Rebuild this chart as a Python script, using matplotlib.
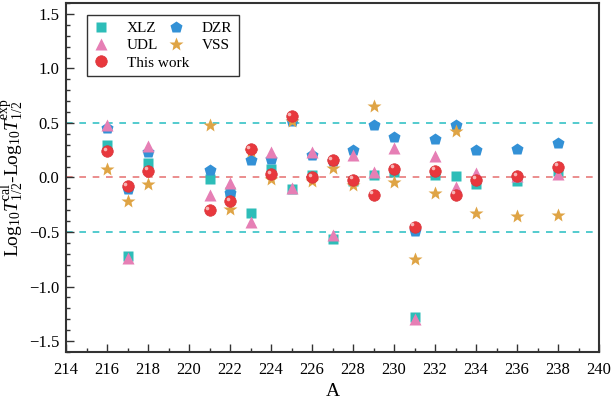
import matplotlib
matplotlib.use("Agg")
import matplotlib.pyplot as plt
from matplotlib.ticker import MultipleLocator
from matplotlib.transforms import offset_copy

plt.rcParams['font.family'] = ['Liberation Serif', 'DejaVu Serif']
plt.rcParams['mathtext.fontset'] = 'custom'
plt.rcParams['mathtext.rm'] = 'Liberation Serif'
plt.rcParams['mathtext.it'] = 'Liberation Serif:italic'
plt.rcParams['mathtext.bf'] = 'Liberation Serif:bold'

A = [216, 217, 218, 221, 222, 223, 224, 225, 226, 227, 228, 229, 230, 231, 232, 233, 234, 236, 238]
xlz = [0.30, -0.72, 0.13, -0.01, -0.13, -0.33, 0.08, -0.11, 0.02, -0.56, -0.03, 0.02, 0.05, -1.28, 0.02, 0.01, -0.06, -0.03, 0.06]
udl = [0.48, -0.74, 0.29, -0.16, -0.05, -0.41, 0.23, -0.10, 0.23, -0.53, 0.21, 0.05, 0.27, -1.30, 0.20, -0.09, 0.04, 0.01, 0.03]
dzr = [0.45, -0.11, 0.23, 0.07, -0.14, 0.16, 0.17, 0.52, 0.21, 0.15, 0.25, 0.48, 0.37, -0.49, 0.35, 0.48, 0.25, 0.26, 0.32]
vss = [0.08, -0.22, -0.06, 0.48, -0.29, 0.24, -0.01, 0.52, -0.03, 0.09, -0.07, 0.66, -0.04, -0.75, -0.14, 0.43, -0.33, -0.35, -0.34]
this_work = [0.24, -0.08, 0.06, -0.30, -0.22, 0.26, 0.03, 0.56, 0.00, 0.16, -0.02, -0.16, 0.08, -0.45, 0.06, -0.16, -0.02, 0.01, 0.10]
ref_lines = [0.5, 0.0, -0.5]

c_xlz = '#2dbdb8'
c_udl = '#e67fb5'
c_dzr = '#3391d6'
c_vss = '#dfa445'
c_red = '#e8383d'

fig = plt.figure(figsize=(6.13, 4.05), dpi=100)
ax = fig.add_axes([0.1077, 0.131, 0.8696, 0.8616])

for v in ref_lines:
    ax.axhline(v, color=('#e87a7a' if v == 0 else '#36c2c6'), ls=(0, (4, 4)), lw=1.2, zorder=1)

h1, = ax.plot(A, xlz, 's', color=c_xlz, ms=6.5, mec='none', label='XLZ', zorder=3)
h4, = ax.plot(A, dzr, 'p', color=c_dzr, ms=9, mec='none', label='DZR', zorder=4)
h2, = ax.plot(A, udl, '^', color=c_udl, ms=9, mec='none', label='UDL', zorder=5)
h5, = ax.plot(A, vss, '*', color=c_vss, ms=10.5, mec='none', label='VSS', zorder=6)
h3, = ax.plot(A, this_work, 'o', color=c_red, ms=8.3, mec='#d8343a', mew=0.5, label='This work', zorder=7)
tr = offset_copy(ax.transData, fig=fig, x=-1.6, y=1.8, units='points')
ax.plot(A, this_work, 'o', color='#f7b5b5', ms=2.6, mec='none', transform=tr, zorder=8)

ax.set_xlim(214, 240)
ax.set_ylim(-1.6, 1.6)
ax.xaxis.set_major_locator(MultipleLocator(2))
ax.xaxis.set_minor_locator(MultipleLocator(1))
ax.yaxis.set_major_locator(MultipleLocator(0.5))
ax.yaxis.set_minor_locator(MultipleLocator(0.1))
ax.tick_params(which='both', direction='in', top=False, right=False, labelsize=12, colors='#333333', labelcolor='black')
ax.tick_params(which='major', length=6, width=1)
ax.tick_params(which='minor', length=3, width=1)
ax.tick_params(axis='x', which='major', pad=7)
ax.tick_params(axis='y', which='major', pad=5)
for s in ax.spines.values():
    s.set_linewidth(1.5)
    s.set_color('#333333')

ax.set_xlabel('A', fontsize=14, labelpad=4)
ax.set_ylabel(r'Log$_{10}$$\it{T}$$^{\rm cal}_{1/2}$-Log$_{10}$$\it{T}$$^{\rm exp}_{1/2}$', fontsize=14, labelpad=2)

leg = ax.legend(handles=[h1, h2, h3, h4, h5], ncol=2, loc='upper left',
                bbox_to_anchor=(0.039, 0.966), borderaxespad=0, fontsize=11, frameon=True, fancybox=False,
                edgecolor='black', handlelength=1.0, handletextpad=1.16, columnspacing=-1.35,
                labelspacing=0.22, borderpad=0.45)
leg.get_frame().set_linewidth(1.0)

fig.savefig('out.png', dpi=100)
